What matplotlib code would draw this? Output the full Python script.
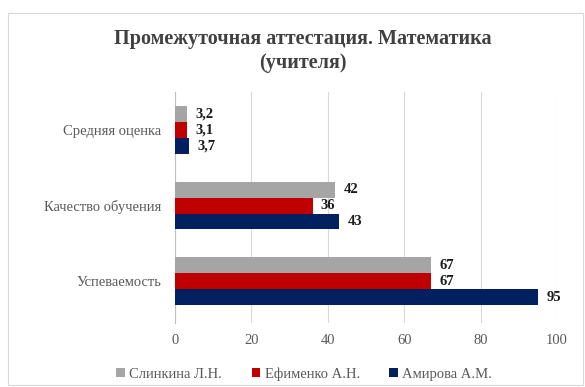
import numpy as np
import matplotlib.pyplot as plt
from matplotlib.patches import Rectangle

plt.rcParams['font.family'] = ['Liberation Serif', 'DejaVu Serif']

categories = ['Успеваемость', 'Качество обучения', 'Средняя оценка']
series_names = ['Слинкина Л.Н.', 'Ефименко А.Н.', 'Амирова А.М.']
slinkina = [67, 42, 3.2]
efimenko = [67, 36, 3.1]
amirova = [95, 43, 3.7]
labels = {
    'Слинкина Л.Н.': ['67', '42', '3,2'],
    'Ефименко А.Н.': ['67', '36', '3,1'],
    'Амирова А.М.': ['95', '43', '3,7'],
}
colors = ['#A5A5A5', '#C00000', '#002060']
ticks = [0, 20, 40, 60, 80, 100]

fig = plt.figure(figsize=(5.85, 3.87), dpi=100)
fig.patches.append(Rectangle((8 / 585, 0.005), 1 - 10 / 585, 1 - 15 / 387,
                             transform=fig.transFigure, fill=False,
                             edgecolor='#D9D9D9', linewidth=0.8))
ax = fig.add_axes([175 / 585, 1 - 323 / 387, (557 - 175) / 585, (323 - 92) / 387])

y = np.arange(len(categories))
h = 0.21
offsets = [h, 0, -h]
for vals, name, col, off in zip([slinkina, efimenko, amirova], series_names, colors, offsets):
    bars = ax.barh(y + off, vals, height=h, color=col, label=name, zorder=3)
    ax.bar_label(bars, labels=labels[name], padding=6, fontsize=10.5,
                 fontweight='bold', color='#1a1a1a')

ax.set_xlim(0, 100)
ax.set_ylim(-0.55, 2.5)
ax.set_xticks(ticks)
ax.set_yticks(y)
ax.set_yticklabels(categories)
ax.tick_params(axis='both', length=0, labelsize=10.5, colors='#595959')
ax.tick_params(axis='y', pad=10)
ax.tick_params(axis='x', pad=8)
ax.grid(axis='x', color='#D9D9D9', linewidth=0.8, zorder=0)
for s in ['top', 'right', 'bottom']:
    ax.spines[s].set_visible(False)
ax.spines['left'].set_color('#BFBFBF')

fig.text(0.518, 1 - 51 / 387, 'Промежуточная аттестация. Математика\n(учителя)',
         ha='center', va='center', fontsize=14.5, fontweight='bold',
         color='#404040', linespacing=1.25)

handles, lbls = ax.get_legend_handles_labels()
fig.legend(handles, lbls, loc='center', bbox_to_anchor=(0.52, 1 - 374 / 387),
           ncol=3, frameon=False, fontsize=10.5, handlelength=0.6, handleheight=0.6,
           columnspacing=2.0, handletextpad=0.3, labelcolor='#595959')

fig.savefig('out.png', dpi=100)
